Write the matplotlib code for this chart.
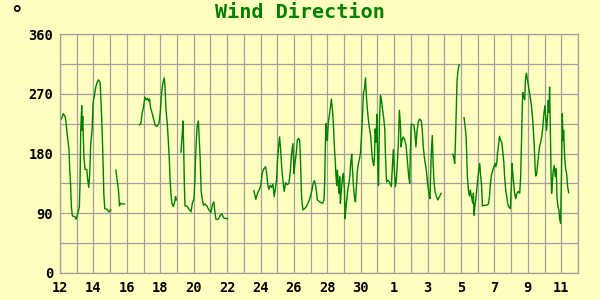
import numpy as np
import matplotlib
matplotlib.use("Agg")
import matplotlib.pyplot as plt

nan = np.nan
# Day numbers: 12..31 = October, 32.. = November (32 -> Nov 1)
day = [
    12.08, 12.2, 12.32, 12.44, 12.54, 12.58, 12.64, 12.68, 12.74, 12.88, 12.96,
    13.08, 13.16, 13.2, 13.24, 13.3, 13.32, 13.36, 13.4, 13.44, 13.5, 13.6, 13.66,
    13.72, 13.78, 13.84, 13.92, 13.98, 14.06, 14.14, 14.22, 14.3, 14.4, 14.46,
    14.52, 14.58, 14.62, 14.68, 14.8, 14.94, 15.04, 15.2,
    15.34, 15.44, 15.5, 15.56, 15.64, 15.74, 15.86, 16.3,
    16.76, 16.84, 16.92, 17.0, 17.08, 17.16, 17.24, 17.3, 17.36, 17.42, 17.5,
    17.6, 17.7, 17.8, 17.92, 18.0, 18.08, 18.16, 18.24, 18.28, 18.34, 18.42,
    18.48, 18.54, 18.58, 18.64, 18.7, 18.78, 18.86, 18.92, 18.96, 19.1,
    19.24, 19.32, 19.36, 19.4, 19.44, 19.48, 19.6, 19.72, 19.84, 19.92, 20.02,
    20.08, 20.12, 20.2, 20.28, 20.33, 20.39, 20.45, 20.51, 20.59, 20.69, 20.81,
    20.91, 21.03, 21.13, 21.21, 21.27, 21.33, 21.47, 21.59, 21.69, 21.79, 21.91,
    22.03, 22.8,
    23.6, 23.72, 23.82, 23.94, 24.02, 24.1, 24.18, 24.3, 24.36, 24.44, 24.5,
    24.58, 24.66, 24.74, 24.82, 24.88, 24.96, 25.02, 25.08, 25.14, 25.2, 25.28,
    25.36, 25.42, 25.5, 25.6, 25.7, 25.78, 25.86, 25.94, 26.0, 26.06, 26.14,
    26.2, 26.28, 26.34, 26.38, 26.42, 26.46, 26.54, 26.64, 26.74, 26.84, 26.92,
    27.0, 27.08, 27.14, 27.22, 27.3, 27.36, 27.4, 27.5, 27.62, 27.72, 27.8,
    27.84, 27.88, 27.92, 27.96, 28.0, 28.06, 28.16, 28.24, 28.3, 28.36, 28.42,
    28.48, 28.52, 28.56, 28.6, 28.66, 28.7, 28.74, 28.78, 28.84, 28.9, 28.96,
    29.02, 29.06, 29.1, 29.16, 29.22, 29.28, 29.34, 29.4, 29.46, 29.5, 29.56,
    29.62, 29.68, 29.74, 29.8, 29.86, 29.92, 29.98, 30.04, 30.1, 30.16, 30.22,
    30.28, 30.34, 30.4, 30.48, 30.6, 30.66, 30.72, 30.78, 30.82, 30.86, 30.92,
    30.96, 31.02, 31.06, 31.12, 31.18, 31.24, 31.3, 31.38, 31.44, 31.48, 31.54,
    31.63, 31.73, 31.83, 31.89, 31.95, 32.01, 32.07, 32.13, 32.19, 32.25, 32.31,
    32.37, 32.41, 32.47, 32.53, 32.61, 32.71, 32.77, 32.83, 32.87, 32.93, 32.96,
    33.02, 33.1, 33.18, 33.24, 33.3, 33.36, 33.44, 33.52, 33.62, 33.68, 33.74,
    33.8, 33.86, 33.92, 33.98, 34.04, 34.1, 34.14, 34.18, 34.22, 34.28, 34.33,
    34.39, 34.45, 34.53, 34.61, 34.71, 34.81, 35.1,
    35.5, 35.56, 35.62, 35.66, 35.72, 35.76, 35.82, 35.88, 36.0,
    36.18, 36.24, 36.3, 36.34, 36.38, 36.44, 36.5, 36.56, 36.62, 36.7, 36.74,
    36.78, 36.83, 36.88, 36.94, 37.0, 37.06, 37.12, 37.16, 37.22, 37.26, 37.28,
    37.4, 37.52, 37.64, 37.7, 37.76, 37.82, 37.9, 37.98, 38.04, 38.08, 38.14,
    38.18, 38.24, 38.3, 38.36, 38.44, 38.5, 38.56, 38.61, 38.67, 38.73, 38.79,
    38.85, 38.95, 39.01, 39.05, 39.09, 39.15, 39.21, 39.27, 39.35, 39.43, 39.51,
    39.57, 39.61, 39.65, 39.69, 39.75, 39.81, 39.85, 39.91, 39.97, 40.05, 40.13,
    40.21, 40.27, 40.33, 40.39, 40.43, 40.47, 40.53, 40.59, 40.65, 40.71, 40.77,
    40.83, 40.88, 40.92, 40.96, 41.02, 41.08, 41.12, 41.18, 41.22, 41.26, 41.3,
    41.34, 41.38, 41.42, 41.46, 41.52, 41.58, 41.64, 41.7, 41.74, 41.8, 41.86,
    41.9, 41.96, 42.0, 42.04, 42.06, 42.1, 42.14, 42.2, 42.26, 42.32, 42.38, 42.44,
]
direction = [
    232, 240, 235, 207, 185, 157, 130, 100, 86, 85, 81,
    91, 100, 137, 215, 252, 215, 236, 200, 172, 156, 156, 140,
    129, 150, 195, 215, 257, 267, 280, 287, 291, 287, 255,
    215, 165, 120, 97, 96, 92, 95, nan,
    155, 137, 125, 101, 105, 104, 104, nan,
    223, 225, 242, 250, 265, 261, 263, 259, 262, 249, 242,
    232, 222, 221, 225, 242, 272, 287, 294, 282, 247, 225,
    200, 172, 145, 120, 105, 100, 107, 115, 110, nan,
    182, 210, 229, 192, 135, 101, 101, 96, 92, 105, 112,
    145, 180, 220, 229, 204, 172, 122, 112, 102, 104, 100,
    95, 91, 104, 107, 92, 81, 81, 87, 89, 83, 82,
    82, nan,
    124, 111, 120, 126, 132, 150, 156, 160, 152, 132, 126,
    132, 129, 134, 115, 125, 140, 172, 190, 205, 187, 155,
    135, 123, 136, 133, 135, 152, 180, 195, 150, 165, 180,
    200, 203, 200, 179, 145, 112, 95, 97, 100, 105, 110,
    117, 125, 134, 139, 132, 120, 110, 108, 106, 105, 110,
    137, 192, 225, 200, 200, 227, 245, 262, 247, 225, 190,
    165, 145, 132, 155, 132, 120, 145, 105, 125, 142, 150,
    127, 82, 95, 110, 125, 134, 145, 167, 179, 157, 132,
    115, 107, 132, 155, 165, 172, 180, 205, 235, 272, 277,
    294, 265, 245, 225, 205, 182, 167, 162, 175, 217, 197,
    239, 165, 132, 230, 267, 260, 247, 232, 215, 175, 137,
    140, 136, 130, 160, 186, 155, 130, 140, 167, 195, 245,
    225, 190, 200, 205, 202, 192, 175, 157, 145, 135, 175,
    224, 224, 222, 210, 190, 212, 227, 232, 229, 215, 190,
    175, 165, 155, 140, 127, 117, 112, 145, 182, 207, 165,
    135, 122, 115, 110, 115, 120, nan,
    179, 175, 165, 192, 252, 290, 305, 314, nan,
    234, 222, 207, 180, 145, 125, 116, 125, 115, 105, 120,
    87, 100, 110, 125, 140, 155, 165, 150, 135, 115, 101,
    102, 102, 104, 115, 135, 147, 155, 161, 165, 160, 166,
    180, 192, 206, 200, 197, 182, 167, 145, 126, 115, 105,
    100, 97, 130, 165, 152, 135, 120, 112, 120, 123, 120,
    145, 190, 232, 272, 265, 261, 290, 301, 292, 280, 267,
    252, 237, 215, 187, 160, 146, 150, 165, 180, 192, 197,
    206, 216, 229, 240, 252, 230, 215, 237, 260, 242, 280,
    225, 160, 120, 135, 155, 162, 145, 157, 115, 100, 95,
    82, 75, 130, 200, 240, 200, 215, 175, 157, 150, 130, 121,
]

tick_days = [12, 14, 16, 18, 20, 22, 24, 26, 28, 30, 32, 34, 36, 38, 40, 42]
tick_labels = ["12", "14", "16", "18", "20", "22", "24", "26", "28", "30",
               "1", "3", "5", "7", "9", "11"]
y_ticks = [0, 90, 180, 270, 360]

bg = "#FFFFC0"
grid_c = "#A0A0A0"
green = "#008000"

fig = plt.figure(figsize=(6, 3), dpi=100, facecolor=bg)
ax = fig.add_axes([60/600, 1-273/300, (578-60)/600, (273-34)/300])
ax.set_facecolor(bg)

ax.plot(day, direction, color=green, linewidth=1.0)

ax.set_xlim(12, 43)
ax.set_ylim(0, 360)
ax.set_xticks(tick_days)
ax.set_xticklabels(tick_labels)
ax.set_xticks(np.arange(12, 44, 1), minor=True)
ax.set_yticks(y_ticks)
ax.set_yticks(np.arange(0, 361, 45), minor=True)
ax.grid(True, which="both", color=grid_c, linewidth=0.9)
ax.set_axisbelow(True)
for s in ax.spines.values():
    s.set_color(grid_c)
    s.set_linewidth(0.9)
ax.tick_params(which="both", length=0)
ax.tick_params(axis="y", pad=5)
ax.tick_params(axis="x", pad=6)
for lab in ax.get_xticklabels() + ax.get_yticklabels():
    lab.set_fontfamily("DejaVu Sans Mono")
    lab.set_fontweight("bold")
    lab.set_fontsize(9.8)
    lab.set_color("black")

fig.text(0.5, 1-13/300, "Wind Direction", ha="center", va="center",
         fontfamily="DejaVu Sans Mono", fontweight="bold", fontsize=14.5,
         color=green)
fig.text(16/600, 1-5/300, "°", ha="center", va="top",
         fontfamily="DejaVu Sans Mono", fontweight="bold", fontsize=15,
         color="black")

fig.savefig("out.png", dpi=100, facecolor=bg)
